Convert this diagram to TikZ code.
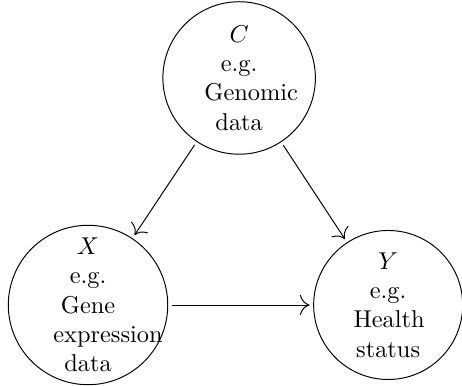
\documentclass[tikz,border=0pt]{standalone}
\usepackage{tikz}
\usetikzlibrary{arrows.meta}
\tikzset{
    var/.style={draw, circle, text width=1cm, align=center, inner sep=1pt, minimum size=2.2cm},
    cause/.style={-{To[scale=1.6]}, shorten >=1.5pt, shorten <=1.5pt},
}

\begin{document}
\begin{tikzpicture}
    \useasboundingbox (0,0) rectangle (6.665,-5.555);
    \node[var] (C) at (3.45,-1.125) {$C$\\e.g.\\Genomic\\data};
    \node[var, minimum size=2.3cm] (X) at (1.27,-4.4) {$X$\\e.g.\\Gene\\expression\\data};
    \node[var, minimum size=2.15cm] (Y) at (5.6,-4.4) {$Y$\\e.g.\\Health\\status};
    % confounder points at both
    \draw[cause] (C) -- (X);
    \draw[cause] (C) -- (Y);
    \draw[cause] (X) -- (Y);
\end{tikzpicture}
\end{document}
